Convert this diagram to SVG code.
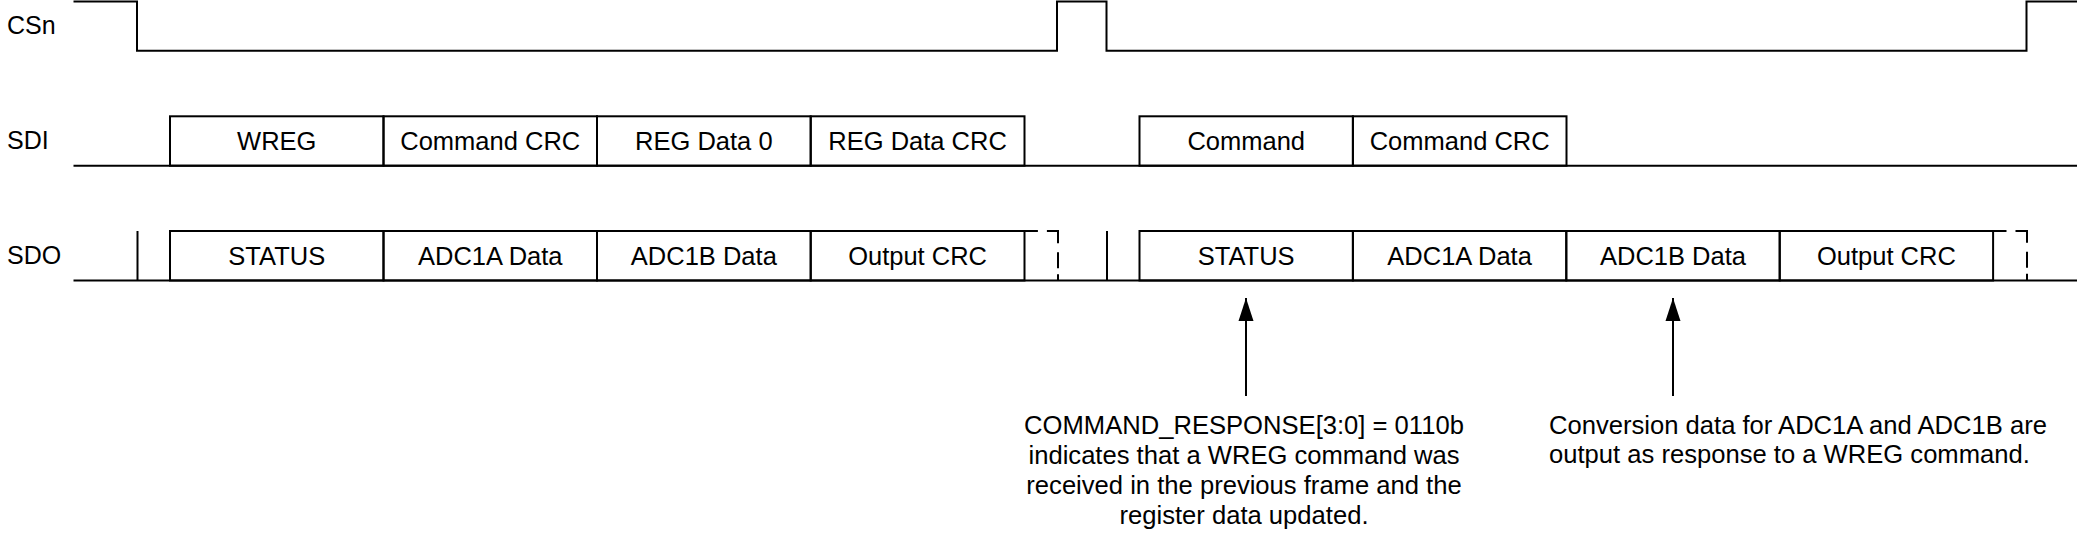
<svg xmlns="http://www.w3.org/2000/svg" width="2077" height="533" viewBox="0 0 2077 533">
<style>
  .w { fill: none; stroke: #000; stroke-width: 2; }
  .box { fill: none; stroke: #000; stroke-width: 2; }
  .dash { fill: none; stroke: #000; stroke-width: 2; stroke-dasharray: 13.4 9 23.3 9 16 6 7 0; }
  .lbl { font-family: "Liberation Sans", Arial, sans-serif; font-size: 25px; fill: #000; }
  .bt { font-family: "Liberation Sans", Arial, sans-serif; font-size: 25.5px; fill: #000; text-anchor: middle; }
  .note { font-family: "Liberation Sans", Arial, sans-serif; font-size: 25.6px; fill: #000; }
</style>
<defs>
  <marker id="ah" viewBox="0 -8 23 16" refX="23" refY="0" markerWidth="23" markerHeight="16" markerUnits="userSpaceOnUse" orient="auto">
    <path d="M0,-7.5 L23,0 L0,7.5 Z" fill="#000"/>
  </marker>
</defs>
<rect width="2077" height="533" fill="#fff"/>

<g id="labels">
  <text class="lbl" x="7" y="34">CSn</text>
  <text class="lbl" x="7" y="149">SDI</text>
  <text class="lbl" x="7" y="264">SDO</text>
</g>

<g id="csn-wave">
  <path class="w" d="M73.5,1.5 H137 V50.7 H1057 V1.5 H1106.5 V50.7 H2026.5 V1.5 H2077"/>
</g>

<g id="sdi-line">
  <path class="w" d="M73.5,165.7 H2077"/>
</g>
<g id="sdi-wreg"><rect class="box" x="170" y="116.3" width="213.5" height="49.4"/><text class="bt" x="276.75" y="149.5">WREG</text></g>
<g id="sdi-cmdcrc"><rect class="box" x="383.5" y="116.3" width="213.5" height="49.4"/><text class="bt" x="490.25" y="149.5">Command CRC</text></g>
<g id="sdi-regdata0"><rect class="box" x="597" y="116.3" width="213.7" height="49.4"/><text class="bt" x="703.85" y="149.5">REG Data 0</text></g>
<g id="sdi-regdatacrc"><rect class="box" x="810.7" y="116.3" width="213.8" height="49.4"/><text class="bt" x="917.6" y="149.5">REG Data CRC</text></g>
<g id="sdi-command"><rect class="box" x="1139.5" y="116.3" width="213.4" height="49.4"/><text class="bt" x="1246.2" y="149.5">Command</text></g>
<g id="sdi-cmdcrc2"><rect class="box" x="1352.9" y="116.3" width="213.6" height="49.4"/><text class="bt" x="1459.7" y="149.5">Command CRC</text></g>

<g id="sdo-line">
  <path class="w" d="M73.5,280.5 H2077"/>
  <path class="w" d="M137.5,231 V280.5"/>
  <path class="w" d="M1107,231 V280.5"/>
  <path class="dash" d="M1024.5,231 H1058 V280.5"/>
  <path class="dash" d="M1993.1,231 H2027 V280.5"/>
</g>
<g id="sdo-status"><rect class="box" x="170" y="231" width="213.5" height="49.5"/><text class="bt" x="276.75" y="264.5">STATUS</text></g>
<g id="sdo-adc1a"><rect class="box" x="383.5" y="231" width="213.5" height="49.5"/><text class="bt" x="490.25" y="264.5">ADC1A Data</text></g>
<g id="sdo-adc1b"><rect class="box" x="597" y="231" width="213.7" height="49.5"/><text class="bt" x="703.85" y="264.5">ADC1B Data</text></g>
<g id="sdo-outcrc"><rect class="box" x="810.7" y="231" width="213.8" height="49.5"/><text class="bt" x="917.6" y="264.5">Output CRC</text></g>
<g id="sdo-status2"><rect class="box" x="1139.5" y="231" width="213.4" height="49.5"/><text class="bt" x="1246.2" y="264.5">STATUS</text></g>
<g id="sdo-adc1a2"><rect class="box" x="1352.9" y="231" width="213.4" height="49.5"/><text class="bt" x="1459.6" y="264.5">ADC1A Data</text></g>
<g id="sdo-adc1b2"><rect class="box" x="1566.3" y="231" width="213.4" height="49.5"/><text class="bt" x="1673" y="264.5">ADC1B Data</text></g>
<g id="sdo-outcrc2"><rect class="box" x="1779.7" y="231" width="213.4" height="49.5"/><text class="bt" x="1886.4" y="264.5">Output CRC</text></g>

<g id="connectors">
  <line class="w" x1="1246" y1="396" x2="1246" y2="298" marker-end="url(#ah)"/>
  <line class="w" x1="1673" y1="396" x2="1673" y2="298" marker-end="url(#ah)"/>
</g>

<g id="note-status">
  <text class="note" text-anchor="middle" x="1244" y="434">COMMAND_RESPONSE[3:0] = 0110b</text>
  <text class="note" text-anchor="middle" x="1244" y="464">indicates that a WREG command was</text>
  <text class="note" text-anchor="middle" x="1244" y="494">received in the previous frame and the</text>
  <text class="note" text-anchor="middle" x="1244" y="524">register data updated.</text>
</g>
<g id="note-adc">
  <text class="note" x="1549" y="434">Conversion data for ADC1A and ADC1B are</text>
  <text class="note" x="1549" y="463">output as response to a WREG command.</text>
</g>
</svg>
